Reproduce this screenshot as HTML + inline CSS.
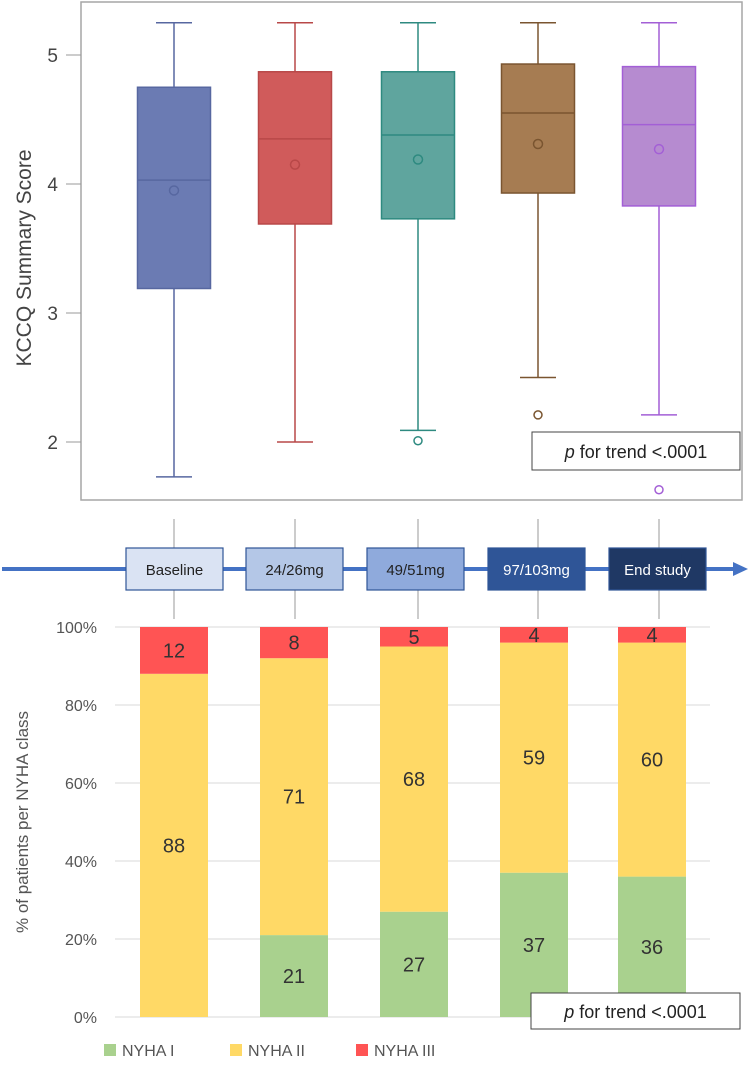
<!DOCTYPE html>
<html><head><meta charset="utf-8"><style>
body{margin:0;background:#fff;font-family:"Liberation Sans",sans-serif}
svg{display:block}
</style></head><body>
<svg id="chart" width="749" height="1079">
<g id="topg"></g>
<g id="midg"></g>
<g id="botg"></g>
</svg>
<script>
const groups=["Baseline","24/26mg","49/51mg","97/103mg","End study"];
const whiskerHigh=[5.25,5.25,5.25,5.25,5.25];
const q3=[4.75,4.87,4.87,4.93,4.91];
const median=[4.03,4.35,4.38,4.55,4.46];
const mean=[3.95,4.15,4.19,4.31,4.27];
const q1=[3.19,3.69,3.73,3.93,3.83];
const whiskerLow=[1.73,2.0,2.09,2.5,2.21];
const outliers=[[],[],[2.01],[2.21],[1.63]];
const yTicks=[2,3,4,5];
const nyha1=[0,21,27,37,36];
const nyha2=[88,71,68,59,60];
const nyha3=[12,8,5,4,4];
const pctTicks=[0,20,40,60,80,100];

const NS="http://www.w3.org/2000/svg";
function mk(p,t,a,txt){const e=document.createElementNS(NS,t);for(const k in a)e.setAttribute(k,a[k]);if(txt!==undefined)e.textContent=txt;p.appendChild(e);return e;}
const cx=[174,295,418,538,659];
const fills=["#6b7bb3","#d05b5b","#5fa59e","#a67c52","#b68bd0"];
const strokes=["#5767a0","#b84848","#2e8a80","#7a5530","#a35fd6"];
const ys=v=>55+(5-v)*129;
const topG=document.getElementById('topg');
let fr=mk(topG,'rect',{x:81,y:2,width:661,height:498,fill:'none',stroke:'#a6a6a6','stroke-width':1.5});

yTicks.forEach(v=>{
 let t=mk(topG,'line',{x1:66,x2:81,y1:ys(v),y2:ys(v),stroke:'#999'});
 
 let l=mk(topG,'text',{x:58,y:ys(v)+7,'text-anchor':'end','font-size':19,fill:'#444'},v);
 
});
let yt=mk(topG,'text',{x:0,y:0,transform:'translate(31,258) rotate(-90)','text-anchor':'middle','font-size':21,fill:'#444'},'KCCQ Summary Score');

groups.forEach((g,i)=>{
 const x=cx[i],w=73,s=strokes[i];
 const bg=mk(topG,'g',{});
 
 mk(bg,'line',{x1:x,x2:x,y1:ys(whiskerHigh[i]),y2:ys(q3[i]),stroke:s,'stroke-width':1.5});
 mk(bg,'line',{x1:x,x2:x,y1:ys(q1[i]),y2:ys(whiskerLow[i]),stroke:s,'stroke-width':1.5});
 mk(bg,'line',{x1:x-18,x2:x+18,y1:ys(whiskerHigh[i]),y2:ys(whiskerHigh[i]),stroke:s,'stroke-width':1.5});
 mk(bg,'line',{x1:x-18,x2:x+18,y1:ys(whiskerLow[i]),y2:ys(whiskerLow[i]),stroke:s,'stroke-width':1.5});
 mk(bg,'rect',{x:x-w/2,y:ys(q3[i]),width:w,height:ys(q1[i])-ys(q3[i]),fill:fills[i],stroke:s,'stroke-width':1.5});
 mk(bg,'line',{x1:x-w/2,x2:x+w/2,y1:ys(median[i]),y2:ys(median[i]),stroke:s,'stroke-width':1.5});
 mk(bg,'circle',{cx:x,cy:ys(mean[i]),r:4.5,fill:'none',stroke:s,'stroke-width':1.5});
 outliers[i].forEach(o=>mk(bg,'circle',{cx:x,cy:ys(o),r:4,fill:'none',stroke:s,'stroke-width':1.5}));
});
let pb=mk(topG,'g',{});
mk(pb,'rect',{x:532,y:432,width:208,height:38,fill:'#fff',stroke:'#444'});
mk(pb,'text',{x:636,y:458,'text-anchor':'middle','font-size':18,fill:'#222'}).innerHTML='<tspan font-style="italic">p</tspan> for trend &lt;.0001';

const midG=document.getElementById('midg');
cx.forEach(x=>{let t=mk(midG,'line',{x1:x,x2:x,y1:519,y2:619,stroke:'#999'});});
let ln=mk(midG,'line',{x1:2,x2:735,y1:569,y2:569,stroke:'#4472c4','stroke-width':4});

mk(midG,'polygon',{points:'733,562 748,569 733,576',fill:'#4472c4'});
const tf=["#dae3f3","#b4c7e7","#8faadc","#2f5597","#1f3864"],tc=["#222","#222","#222","#fff","#fff"];
const bx=[126,246,367,488,609];
groups.forEach((g,i)=>{
 const gg=mk(midG,'g',{});
 mk(gg,'rect',{x:bx[i],y:548,width:97,height:42,fill:tf[i],stroke:'#2f5597','stroke-width':1.2});
 mk(gg,'text',{x:bx[i]+48.5,y:575,'text-anchor':'middle','font-size':15,fill:tc[i]},g);
});

const botG=document.getElementById('botg');
const yb=v=>1017-v*3.9;
const bcx=[174,294,414,534,652];
pctTicks.forEach(v=>{
 let g=mk(botG,'line',{x1:115,x2:710,y1:yb(v),y2:yb(v),stroke:'#d9d9d9'});
 
 let l=mk(botG,'text',{x:97,y:yb(v)+6,'text-anchor':'end','font-size':16,fill:'#555'},v+'%');
 
});
let yt2=mk(botG,'text',{x:0,y:0,transform:'translate(28,822) rotate(-90)','text-anchor':'middle','font-size':17,fill:'#555'},'% of patients per NYHA class');

const sc=["#a9d18e","#ffd966","#ff5454"];
groups.forEach((g,i)=>{
 const vals=[nyha1[i],nyha2[i],nyha3[i]];let acc=0;
 vals.forEach((v,k)=>{
  if(v>0){
   let r=mk(botG,'rect',{x:bcx[i]-34,y:yb(acc+v),width:68,height:yb(acc)-yb(acc+v),fill:sc[k]});
   
   let t=mk(botG,'text',{x:bcx[i],y:(yb(acc)+yb(acc+v))/2+7,'text-anchor':'middle','font-size':20,fill:'#333'},v);
   
  }
  acc+=v;
 });
});
let pb2=mk(botG,'g',{});
mk(pb2,'rect',{x:531,y:993,width:209,height:36,fill:'#fff',stroke:'#444'});
mk(pb2,'text',{x:635.5,y:1018,'text-anchor':'middle','font-size':18,fill:'#222'}).innerHTML='<tspan font-style="italic">p</tspan> for trend &lt;.0001';
const legNames=["NYHA I","NYHA II","NYHA III"],legX=[104,230,356];
legNames.forEach((n,k)=>{
 const lg=mk(botG,'g',{});
 mk(lg,'rect',{x:legX[k],y:1044,width:12,height:12,fill:sc[k]});
 mk(lg,'text',{x:legX[k]+18,y:1056,'font-size':16,fill:'#555'},n);
});
</script>
</body></html>
